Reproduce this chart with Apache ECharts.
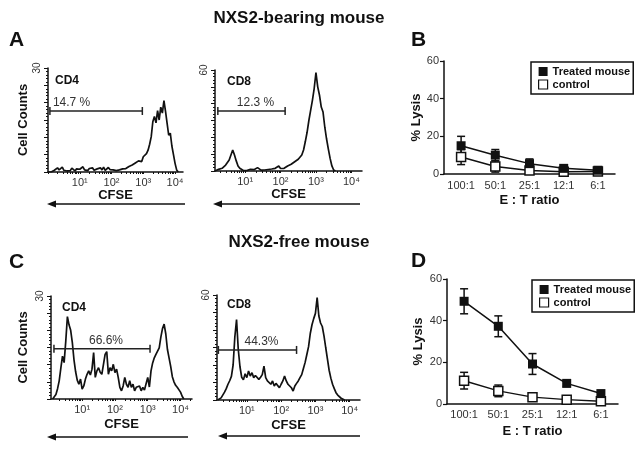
<!DOCTYPE html>
<html>
<head>
<meta charset="utf-8">
<script src="https://cdn.jsdelivr.net/npm/echarts@6/dist/echarts.min.js"></script>
<style>
html, body { margin: 0; padding: 0; background: #fff; }
#chart { width: 643px; height: 450px; }
</style>
</head>
<body>
<div id="chart"></div>
<script>
const FONT = 'Liberation Sans, Arial, Helvetica, sans-serif';
const INK = '#111';

// CFSE histograms: counts per 0.05-decade bin, first bin at the given log10 value
const binStep = 0.05;

const cd4BearingStart = 0.0;
const cd4Bearing = [
  0, 0, 0, 0.2, 0.5, 0.8, 1.2, 0.6, 1.0, 1.4,
  0.5, 0.9, 0.3, 0.8, 0.4, 1.1, 0.6, 0.3, 0.9, 0.5,
  0.8, 0.4, 1.5, 0.6, 0.9, 0.4, 1.0, 0.7, 1.2, 0.5,
  0.8, 0.9, 0.4, 1.2, 0.6, 1.4, 0.5, 0.9, 1.3, 0.7,
  1.0, 0.6, 0.9, 0.4, 0.8, 0.6, 0.7, 0.9, 0.6, 1.0,
  1.2, 1.6, 1.4, 2.0, 1.7, 2.6, 2.2, 3.2, 3.5, 3.0,
  4.4, 4.0, 5.3, 6.3, 8.0, 10.2, 14.5, 16.0, 14.2, 17.7,
  15.0, 18.7, 17.0, 20.6, 17.5, 14.0, 10.6, 11.2, 7.5, 5.0,
  2.5, 0.6, 0
];

const cd8BearingStart = 0.15;
const cd8Bearing = [
  0, 0.5, 1.0, 1.4, 1.6, 2.5, 3.5, 4.5, 6.5, 7.5,
  12.5, 9.5, 6.0, 3.0, 1.6, 0.6, 0.3, 0.8, 0.2, 0.5,
  1.0, 0.3, 0.8, 1.2, 2.0, 1.0, 0.5, 1.5, 0.6, 0.3,
  0.9, 0.5, 1.2, 0.7, 1.6, 2.4, 3.0, 1.5, 2.2, 1.6,
  2.0, 3.0, 2.6, 4.0, 3.6, 5.5, 5.0, 7.0, 8.0, 9.5,
  12.5, 17.5, 23.0, 30.0, 36.0, 42.0, 49.0, 58.5, 50.0, 45.0,
  38.0, 35.0, 26.0, 19.0, 13.0, 7.5, 3.0, 0.6, 0
];

const cd4FreeStart = 0.10;
const cd4Free = [
  0, 0.5, 1.3, 3.0, 5.3, 9.0, 12.5, 10.6, 16.8, 24.0,
  21.6, 20.0, 16.5, 11.5, 8.0, 5.5, 4.3, 5.8, 2.9, 3.8,
  5.8, 7.2, 8.2, 7.0, 8.7, 13.5, 6.3, 8.2, 9.1, 7.8,
  7.2, 10.1, 13.0, 13.8, 7.2, 9.1, 8.2, 10.1, 7.7, 8.7,
  6.3, 3.4, 2.4, 3.8, 6.3, 4.3, 3.4, 5.3, 3.4, 4.3,
  2.4, 3.4, 2.9, 3.8, 2.4, 3.4, 2.6, 2.9, 6.3, 3.5,
  8.2, 10.5, 12.0, 13.0, 13.5, 14.9, 18.0, 20.5, 21.8, 19.0,
  14.5, 12.0, 9.5, 6.5, 5.0, 4.0, 3.4, 3.8, 2.0, 0.8,
  0
];

const cd8FreeStart = 0.15;
const cd8Free = [
  0, 0.4, 1.2, 2.3, 4.5, 6.5, 9.0, 11.0, 13.5, 20.0,
  36.0, 46.0, 29.0, 19.0, 13.0, 11.5, 15.0, 12.8, 16.6, 13.7,
  15.6, 12.8, 14.0, 14.7, 11.8, 13.0, 14.5, 19.4, 12.8, 10.9,
  9.8, 9.0, 10.9, 8.0, 9.5, 9.9, 7.0, 9.0, 10.9, 13.7,
  10.9, 9.0, 8.0, 7.0, 5.1, 8.0, 9.5, 10.9, 12.8, 14.5,
  18.0, 21.5, 26.0, 30.5, 38.0, 43.0, 46.5, 49.5, 58.5, 48.0,
  44.0, 42.0, 36.6, 30.0, 23.5, 17.0, 12.5, 9.0, 6.5, 4.2,
  2.8, 1.8, 1.0, 0.3, 0
];

// gates: [from log10, to log10, count level, label]
const gateCd4Bearing = [0.06, 2.97, 17.6, '14.7 %'];
const gateCd8Bearing = [0.23, 2.13, 35.7, '12.3 %'];
const gateCd4Free = [0.14, 3.07, 14.6, '66.6%'];
const gateCd8Free = [0.17, 2.45, 28.6, '44.3%'];

const cfseTicks = [1, 2, 3, 4];
const cfseTickLabels = ['10¹', '10²', '10³', '10⁴'];

// cytotoxicity
const ratios = ['100:1', '50:1', '25:1', '12:1', '6:1'];
const treatedB = [15, 10, 5.5, 3, 2];
const treatedBErr = [5, 3, 2.5, 1, 0.8];
const controlB = [9, 4, 1.8, 1.2, 1.3];
const controlBErr = [4, 3, 1, 0.5, 0.5];
const treatedD = [49.3, 37.3, 19.2, 9.9, 5];
const treatedDErr = [6, 5, 5, 1.5, 1];
const controlD = [11.2, 6.3, 3.3, 2.1, 1.3];
const controlDErr = [4, 2.8, 1.2, 0.8, 0.5];

const chart = echarts.init(document.getElementById('chart'), null, { renderer: 'canvas' });

// minor log ticks along CFSE axis
const cfseMinor = [];
for (let d = 0; d <= 4; d++) {
  for (let k = 1; k <= 9; k++) cfseMinor.push(d + Math.log10(k));
}

function bins(start, counts) {
  return counts.map((c, i) => [+(start + i * binStep).toFixed(3), c]);
}

function cfseX(gi, min, max, gap) {
  return {
    gridIndex: gi, type: 'value', min: min, max: max,
    axisLine: { lineStyle: { color: INK, width: 1.5 } },
    axisTick: { customValues: cfseMinor.filter(v => v >= min && v <= max), length: 2, lineStyle: { color: INK, width: 1 } },
    axisLabel: {
      customValues: cfseTicks, margin: 5, fontSize: 11, color: '#333', fontFamily: FONT,
      formatter: v => cfseTickLabels[Math.round(v) - 1]
    },
    splitLine: { show: false },
    name: 'CFSE', nameLocation: 'middle', nameGap: gap,
    nameTextStyle: { fontWeight: 'bold', fontSize: 13, color: INK, fontFamily: FONT }
  };
}

function countY(gi, max, name, gap) {
  return {
    gridIndex: gi, type: 'value', min: 0, max: max, interval: max / 6,
    axisLine: { show: true, lineStyle: { color: INK, width: 1.5 } },
    axisTick: { show: true, length: 4, lineStyle: { color: INK, width: 1 } },
    minorTick: { show: true, splitNumber: 5, length: 2, lineStyle: { color: INK, width: 1 } },
    axisLabel: { customValues: [max], rotate: 90, margin: 6, fontSize: 10, color: '#333', fontFamily: FONT },
    splitLine: { show: false },
    name: name, nameLocation: 'middle', nameGap: gap, nameRotate: 90,
    nameTextStyle: { fontWeight: 'bold', fontSize: 13, color: INK, fontFamily: FONT }
  };
}

function ratioX(gi, margin, gap) {
  return {
    gridIndex: gi, type: 'category', data: ratios, boundaryGap: true,
    axisLine: { lineStyle: { color: INK, width: 1.5 } },
    axisTick: { show: false },
    axisLabel: { interval: 0, margin: margin, fontSize: 11, color: '#333', fontFamily: FONT },
    name: 'E : T ratio', nameLocation: 'middle', nameGap: gap,
    nameTextStyle: { fontWeight: 'bold', fontSize: 13, color: INK, fontFamily: FONT }
  };
}

function lysisY(gi, gap) {
  return {
    gridIndex: gi, type: 'value', min: 0, max: 60, interval: 20,
    axisLine: { show: true, lineStyle: { color: INK, width: 1.5 } },
    axisTick: { show: true, length: 4, lineStyle: { color: INK, width: 1.2 } },
    axisLabel: { margin: 5, fontSize: 11, color: '#333', fontFamily: FONT },
    splitLine: { show: false },
    name: '% Lysis', nameLocation: 'middle', nameGap: gap, nameRotate: 90,
    nameTextStyle: { fontWeight: 'bold', fontSize: 13, color: INK, fontFamily: FONT }
  };
}

function histSeries(gi, start, counts) {
  return {
    type: 'line', xAxisIndex: gi, yAxisIndex: gi,
    data: bins(start, counts),
    showSymbol: false, silent: true,
    lineStyle: { color: INK, width: 1.7 }
  };
}

// gate bar with end caps and its percentage
function gateSeries(gi, gate, atStart) {
  return {
    type: 'custom', xAxisIndex: gi, yAxisIndex: gi, silent: true, z: 5,
    data: [[gate[0], gate[1], gate[2]]],
    encode: { x: [0, 1], y: 2 },
    renderItem: (params, api) => {
      const a = api.coord([api.value(0), api.value(2)]);
      const b = api.coord([api.value(1), api.value(2)]);
      const st = { stroke: '#222', lineWidth: 1.5 };
      return {
        type: 'group', children: [
          { type: 'line', shape: { x1: a[0], y1: a[1], x2: b[0], y2: b[1] }, style: st },
          { type: 'line', shape: { x1: a[0], y1: a[1] - 4, x2: a[0], y2: a[1] + 4 }, style: st },
          { type: 'line', shape: { x1: b[0], y1: b[1] - 4, x2: b[0], y2: b[1] + 4 }, style: st },
          {
            type: 'text', style: {
              text: gate[3], x: atStart ? a[0] + 3 : (a[0] + b[0]) / 2 + 4, y: a[1] - 2,
              textAlign: atStart ? 'left' : 'center', textVerticalAlign: 'bottom',
              font: '12px ' + FONT, fill: '#333'
            }
          }
        ]
      };
    }
  };
}

function renderErr(params, api) {
  const c = api.value(0);
  const top = api.coord([c, api.value(2)]);
  const bot = api.coord([c, api.value(1)]);
  const w = 4;
  const st = { stroke: INK, lineWidth: 1.5 };
  return {
    type: 'group', children: [
      { type: 'line', shape: { x1: top[0], y1: top[1], x2: bot[0], y2: bot[1] }, style: st },
      { type: 'line', shape: { x1: top[0] - w, y1: top[1], x2: top[0] + w, y2: top[1] }, style: st },
      { type: 'line', shape: { x1: bot[0] - w, y1: bot[1], x2: bot[0] + w, y2: bot[1] }, style: st }
    ]
  };
}

function errSeries(gi, mean, err) {
  return {
    type: 'custom', xAxisIndex: gi, yAxisIndex: gi, silent: true, z: 1,
    renderItem: renderErr,
    encode: { x: 0, y: [1, 2] },
    data: mean.map((m, i) => [i, m - err[i], m + err[i]])
  };
}

function lysisSeries(gi, name, mean, filled) {
  return {
    type: 'line', name: name, xAxisIndex: gi, yAxisIndex: gi, data: mean,
    symbol: 'rect', symbolSize: 9, z: filled ? 4 : 3,
    lineStyle: { color: INK, width: 1.5 },
    itemStyle: filled ? { color: INK } : { color: '#fff', borderColor: INK, borderWidth: 1.5 }
  };
}

function legendBox(left, top) {
  return {
    left: left, top: top, orient: 'vertical',
    padding: [4, 3, 4, 7], itemGap: 2, itemWidth: 9, itemHeight: 9,
    borderColor: INK, borderWidth: 1.5, icon: 'rect',
    textStyle: { fontWeight: 'bold', fontSize: 11, color: INK, fontFamily: FONT },
    data: [
      { name: 'Treated mouse', itemStyle: { color: INK } },
      { name: 'control', itemStyle: { color: '#fff', borderColor: INK, borderWidth: 1.2 } }
    ]
  };
}

function txt(text, x, y, size, align) {
  return {
    type: 'text', silent: true,
    style: { text: text, x: x, y: y, font: 'bold ' + size + 'px ' + FONT, fill: INK, textAlign: align || 'left', textVerticalAlign: 'middle' }
  };
}

function arrow(x0, x1, y) {
  return {
    type: 'group', silent: true, children: [
      { type: 'line', shape: { x1: x0 + 6, y1: y, x2: x1, y2: y }, style: { stroke: INK, lineWidth: 1.6 } },
      { type: 'polygon', shape: { points: [[x0, y], [x0 + 9, y - 3.5], [x0 + 9, y + 3.5]] }, style: { fill: INK } }
    ]
  };
}

const option = {
  backgroundColor: '#fff',
  animation: false,
  grid: [
    { left: 48, top: 68, width: 135, height: 104 },
    { left: 215, top: 70, width: 147, height: 101 },
    { left: 444, top: 61, width: 171, height: 113 },
    { left: 51, top: 296, width: 141, height: 103 },
    { left: 217, top: 295, width: 143, height: 105 },
    { left: 447, top: 279, width: 171, height: 125 }
  ],
  xAxis: [
    cfseX(0, 0, 4.25, 17),
    cfseX(1, 0.15, 4.3, 17),
    ratioX(2, 6, 20),
    cfseX(3, 0.05, 4.35, 19),
    cfseX(4, 0.13, 4.3, 19),
    ratioX(5, 5, 21)
  ],
  yAxis: [
    countY(0, 30, 'Cell Counts', 18),
    countY(1, 60, '', 18),
    lysisY(2, 20),
    countY(3, 30, 'Cell Counts', 21),
    countY(4, 60, '', 18),
    lysisY(5, 22)
  ],
  legend: [legendBox(531, 62), legendBox(532, 280)],
  series: [
    histSeries(0, cd4BearingStart, cd4Bearing),
    histSeries(1, cd8BearingStart, cd8Bearing),
    histSeries(3, cd4FreeStart, cd4Free),
    histSeries(4, cd8FreeStart, cd8Free),
    gateSeries(0, gateCd4Bearing, true),
    gateSeries(1, gateCd8Bearing, false),
    gateSeries(3, gateCd4Free, false),
    gateSeries(4, gateCd8Free, false),
    errSeries(2, treatedB, treatedBErr),
    errSeries(2, controlB, controlBErr),
    lysisSeries(2, 'Treated mouse', treatedB, true),
    lysisSeries(2, 'control', controlB, false),
    errSeries(5, treatedD, treatedDErr),
    errSeries(5, controlD, controlDErr),
    lysisSeries(5, 'Treated mouse', treatedD, true),
    lysisSeries(5, 'control', controlD, false)
  ],
  graphic: [
    txt('NXS2-bearing mouse', 299, 18, 17, 'center'),
    txt('NXS2-free mouse', 299, 242, 17, 'center'),
    txt('A', 9, 40, 21),
    txt('B', 411, 40, 21),
    txt('C', 9, 262, 21),
    txt('D', 411, 261, 21),
    txt('CD4', 55, 81, 12),
    txt('CD8', 227, 82, 12),
    txt('CD4', 62, 308, 12),
    txt('CD8', 227, 305, 12),
    arrow(47, 185, 204),
    arrow(213, 360, 204),
    arrow(47, 188, 437),
    arrow(218, 360, 436)
  ]
};

chart.setOption(option);
</script>
</body>
</html>
